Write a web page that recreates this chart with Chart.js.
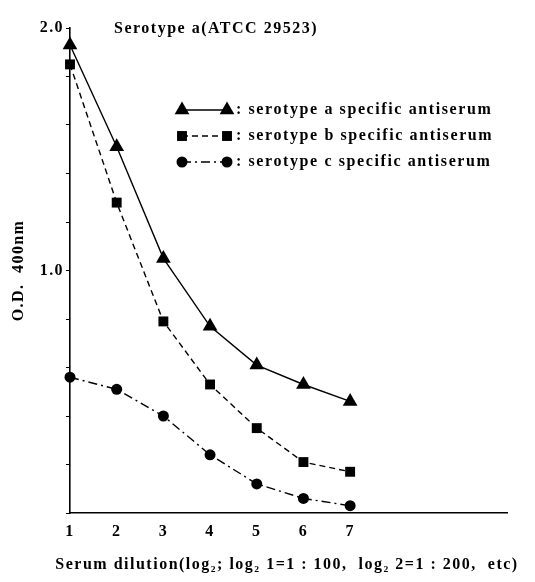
<!DOCTYPE html>
<html><head><meta charset="utf-8">
<script src="https://cdn.jsdelivr.net/npm/chart.js@4.4.0/dist/chart.umd.min.js"></script>
<style>html,body{margin:0;padding:0;background:#fff}#wrap{width:535px;height:582px;position:relative}</style>
</head><body><div id="wrap"><canvas id="c" width="535" height="582"></canvas></div>
<script>
const dilutions = [1, 2, 3, 4, 5, 6, 7];
const serotypeA = [1.93, 1.51, 1.05, 0.77, 0.61, 0.53, 0.46];
const serotypeB = [1.85, 1.28, 0.79, 0.53, 0.35, 0.21, 0.17];
const serotypeC = [0.56, 0.51, 0.40, 0.24, 0.12, 0.06, 0.03];
const seriesLabels = [': serotype a specific antiserum', ': serotype b specific antiserum', ': serotype c specific antiserum'];
const xTickValues = [1, 2, 3, 4, 5, 6, 7];
const xTickLabels = ['1', '2', '3', '4', '5', '6', '7'];
const yTickValues = [0, 0.2, 0.4, 0.6, 0.8, 1.0, 1.2, 1.4, 1.6, 1.8, 2.0];
const yTickLabels = {1: '1.0', 2: '2.0'};
const chartTitle = 'Serotype a(ATCC 29523)';
const xTitle = 'Serum dilution(log\u2082; log\u2082 1=1 : 100,  log\u2082 2=1 : 200,  etc)';
const yTitle = 'O.D.  400nm';

const FONT = '"Liberation Serif", "Times New Roman", serif';
const SPACING = '1.4px';
const toPts = arr => dilutions.map((x, i) => ({x: x, y: arr[i]}));

const styles = [
  {pointStyle: 'triangle', pointRadius: 8.5, borderDash: []},
  {pointStyle: 'rect', pointRadius: 7, borderDash: [6, 4]},
  {pointStyle: 'circle', pointRadius: 5.5, borderDash: [9, 4, 2, 4]}
];
const seriesData = [serotypeA, serotypeB, serotypeC];

const datasets = seriesData.map((arr, i) => ({
  label: seriesLabels[i],
  data: toPts(arr),
  showLine: true,
  borderColor: '#000',
  backgroundColor: '#000',
  borderWidth: 1.4,
  borderDash: styles[i].borderDash,
  pointStyle: styles[i].pointStyle,
  pointRadius: styles[i].pointRadius,
  pointBackgroundColor: '#000',
  pointBorderColor: '#000',
  pointBorderWidth: 0,
  tension: 0,
  clip: false
}));

function drawMarker(ctx, style, r, x, y) {
  ctx.save();
  ctx.fillStyle = '#000';
  ctx.beginPath();
  if (style === 'triangle') {
    ctx.moveTo(x, y - r);
    ctx.lineTo(x + r * Math.sin(Math.PI / 3), y + r * 0.5);
    ctx.lineTo(x - r * Math.sin(Math.PI / 3), y + r * 0.5);
    ctx.closePath();
  } else if (style === 'rect') {
    const s = r * Math.SQRT1_2;
    ctx.rect(x - s, y - s, 2 * s, 2 * s);
  } else {
    ctx.arc(x, y, r, 0, Math.PI * 2);
  }
  ctx.fill();
  ctx.restore();
}

const annotPlugin = {
  id: 'annot',
  beforeDraw(chart) {
    try { chart.ctx.letterSpacing = SPACING; } catch (e) {}
  },
  afterDraw(chart) {
    const ctx = chart.ctx;
    ctx.save();
    ctx.fillStyle = '#000';
    ctx.font = 'bold 16px ' + FONT;
    ctx.textAlign = 'center';
    ctx.textBaseline = 'middle';
    try { ctx.letterSpacing = '1.5px'; } catch (e) {}
    ctx.fillText(chartTitle, 216, 29);
    // x-axis title, centred under the plot
    ctx.fillText(xTitle, 287, 565);
    // legend
    try { ctx.letterSpacing = '1.6px'; } catch (e) {}
    const rows = [110, 136, 162];
    const x1 = 182, x2 = 227;
    chart.data.datasets.forEach((ds, i) => {
      const y = rows[i];
      ctx.save();
      ctx.strokeStyle = '#000';
      ctx.lineWidth = 1.4;
      ctx.setLineDash(ds.borderDash || []);
      ctx.beginPath();
      ctx.moveTo(x1, y);
      ctx.lineTo(x2, y);
      ctx.stroke();
      ctx.restore();
      drawMarker(ctx, ds.pointStyle, ds.pointRadius, x1, y);
      drawMarker(ctx, ds.pointStyle, ds.pointRadius, x2, y);
      ctx.textAlign = 'left';
      ctx.fillText(ds.label, 236, y);
    });
    ctx.restore();
  }
};

const tickFont = {family: FONT, size: 16, weight: 'bold'};

new Chart(document.getElementById('c'), {
  type: 'scatter',
  data: {datasets: datasets},
  plugins: [annotPlugin],
  options: {
    responsive: false,
    devicePixelRatio: 1,
    animation: false,
    layout: {padding: {top: 28, right: 28, left: 0, bottom: 0}},
    plugins: {legend: {display: false}, tooltip: {enabled: false}, title: {display: false}},
    scales: {
      x: {
        type: 'linear', min: 1, max: 10.36,
        afterBuildTicks: s => { s.ticks = xTickValues.map(v => ({value: v})); },
        afterFit: s => { s.height = 69; },
        grid: {drawOnChartArea: false, drawTicks: false},
        border: {display: true, color: '#000', width: 1.6},
        ticks: {
          autoSkip: false, maxRotation: 0, padding: 9, color: '#000',
          font: tickFont,
          callback: (v) => { const k = xTickValues.indexOf(v); return k >= 0 ? xTickLabels[k] : ''; }
        },
        title: {display: false}
      },
      y: {
        type: 'linear', min: 0, max: 2.0,
        afterBuildTicks: s => { s.ticks = yTickValues.map(v => ({value: v})); },
        afterFit: s => { s.width = 70; },
        grid: {drawOnChartArea: false, drawTicks: true, tickLength: 4, color: '#000', lineWidth: 1},
        border: {display: true, color: '#000', width: 1.6},
        ticks: {
          autoSkip: false, padding: 2, color: '#000',
          font: tickFont,
          callback: (v) => yTickLabels[v] || ''
        },
        title: {display: true, text: yTitle, color: '#000', font: tickFont, padding: {top: 9, bottom: 0}}
      }
    }
  }
});
</script></body></html>
